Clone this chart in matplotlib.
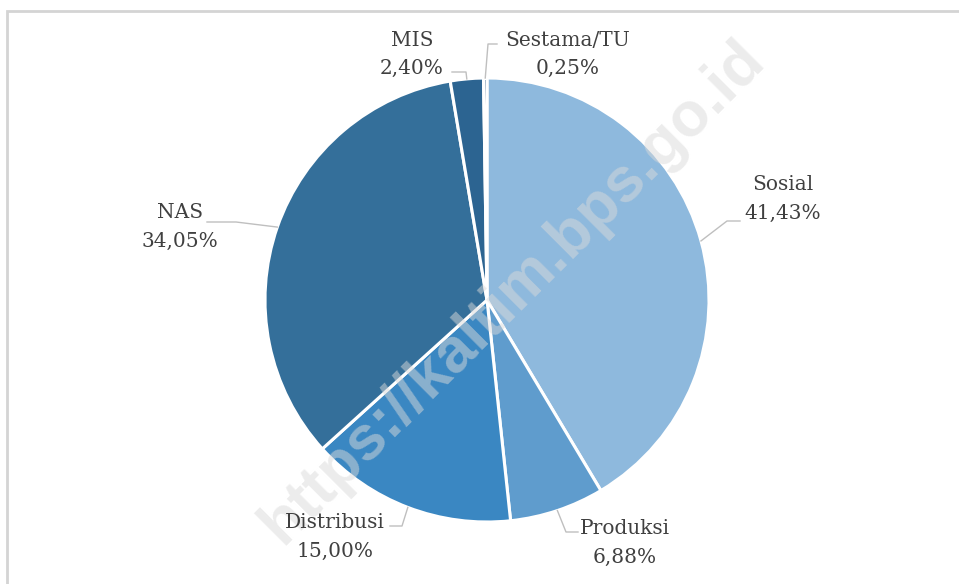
import numpy as np
import matplotlib
matplotlib.use("Agg")
import matplotlib.pyplot as plt

# share of activities per work unit (percent)
units = ["Sosial", "Produksi", "Distribusi", "NAS", "MIS", "Sestama/TU"]
shares = [41.43, 6.88, 15.00, 34.05, 2.40, 0.25]
colors = ["#8EB9DD", "#5F9CCD", "#3A87C2", "#346F9A", "#2C6491", "#1F4E79"]

# label centres and leader elbows, in pixels from the top-left corner
label_pos = [(783, 199), (625, 543), (335, 537), (180, 227), (412, 54), (568, 54)]
elbows = [[(727, 221), (740, 221)],
          [(566, 532), (578, 532)],
          [(402, 526), (390, 526)],
          [(236, 222), (207, 222)],
          [(466, 72), (452, 72)],
          [(488, 44), (497, 44)]]

W, H = 959, 584
cx, cy, r = 487, H - 300, 222

fig = plt.figure(figsize=(W / 100, H / 100), dpi=100)
ax = fig.add_axes([0, 0, 1, 1])

wedges, _ = ax.pie(shares, colors=colors, startangle=90, counterclock=False,
                   center=(cx, cy), radius=r,
                   wedgeprops=dict(edgecolor="white", linewidth=2.2))
ax.set_xlim(0, W)
ax.set_ylim(0, H)
ax.set_aspect("equal")
ax.axis("off")

for w, name, val, (lx, ly), elb in zip(wedges, units, shares, label_pos, elbows):
    mid = np.deg2rad((w.theta1 + w.theta2) / 2)
    ex, ey = cx + r * np.cos(mid), cy + r * np.sin(mid)
    xs = [ex] + [p[0] for p in elb]
    ys = [ey] + [H - p[1] for p in elb]
    ax.plot(xs, ys, color="#bfbfbf", lw=1, zorder=1)
    txt = name + "\n" + ("%.2f%%" % val).replace(".", ",")
    ax.text(lx, H - ly, txt, ha="center", va="center", fontsize=14.5,
            family="DejaVu Serif", color="#404040", linespacing=1.6, zorder=6)

# outer frame
ax.plot([7, 7, W], [0, H - 11, H - 11], color="#d4d4d4", lw=2,
        solid_joinstyle="miter", clip_on=False)

# watermark
ax.text(513, H - 292, "https://kaltim.bps.go.id", rotation=45,
        ha="center", va="center", fontsize=45, fontweight="bold",
        family="Liberation Sans", color="#dadada", alpha=0.5, zorder=5)

fig.savefig("out.png", dpi=100)
